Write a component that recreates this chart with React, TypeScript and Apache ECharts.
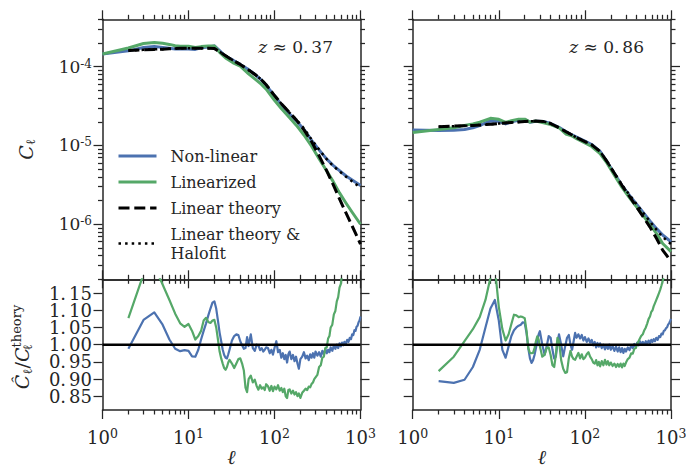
import React, { useEffect, useRef } from "react";
import * as echarts from "echarts";

const INK = "#262626";
const BLUE = "#4C72B0";
const GREEN = "#55A868";
const FONT = "DejaVu Serif";

// multipoles at which the smooth spectra are sampled
const ellSpectrum = [1, 2, 3, 4, 5, 6, 7, 8, 10, 12, 14, 17, 20, 23, 27, 33, 40, 50, 60, 70, 80, 100, 120, 150, 180, 220, 270, 330, 400, 480, 570, 680, 800, 1000];

// z ≈ 0.37
const clNonLinearLow = [1.45e-4, 1.59e-4, 1.75e-4, 1.81e-4, 1.76e-4, 1.72e-4, 1.68e-4, 1.68e-4, 1.68e-4, 1.66e-4, 1.74e-4, 1.78e-4, 1.84e-4, 1.6e-4, 1.35e-4, 1.21e-4, 1.07e-4, 9.2e-5, 7.9e-5, 6.8e-5, 5.8e-5, 4.3e-5, 3.3e-5, 2.5e-5, 2.05e-5, 1.6e-5, 1.16e-5, 8.8e-6, 6.8e-6, 5.6e-6, 4.8e-6, 4.1e-6, 3.65e-6, 3.1e-6];
const clLinearizedLow = [1.45e-4, 1.73e-4, 1.97e-4, 2.03e-4, 1.98e-4, 1.92e-4, 1.85e-4, 1.82e-4, 1.82e-4, 1.75e-4, 1.8e-4, 1.83e-4, 1.83e-4, 1.52e-4, 1.29e-4, 1.12e-4, 1.02e-4, 8.1e-5, 6.9e-5, 6.0e-5, 5.2e-5, 3.75e-5, 2.95e-5, 2.25e-5, 1.8e-5, 1.36e-5, 9.8e-6, 6.8e-6, 4.85e-6, 3.5e-6, 2.5e-6, 1.85e-6, 1.42e-6, 1.0e-6];
const clLinearTheoryLow = [null, 1.61e-4, 1.64e-4, 1.66e-4, 1.67e-4, 1.69e-4, 1.7e-4, 1.71e-4, 1.71e-4, 1.72e-4, 1.72e-4, 1.72e-4, 1.7e-4, 1.55e-4, 1.38e-4, 1.2e-4, 1.07e-4, 9.1e-5, 7.9e-5, 6.9e-5, 5.9e-5, 4.3e-5, 3.4e-5, 2.6e-5, 2.1e-5, 1.58e-5, 1.12e-5, 7.4e-6, 4.9e-6, 3.2e-6, 2.1e-6, 1.38e-6, 9.5e-7, 5.6e-7];
const clHalofitLow = [null, 1.61e-4, 1.64e-4, 1.66e-4, 1.67e-4, 1.69e-4, 1.7e-4, 1.71e-4, 1.71e-4, 1.72e-4, 1.72e-4, 1.72e-4, 1.7e-4, 1.55e-4, 1.38e-4, 1.2e-4, 1.07e-4, 9.1e-5, 7.9e-5, 6.9e-5, 5.9e-5, 4.3e-5, 3.4e-5, 2.6e-5, 2.12e-5, 1.65e-5, 1.19e-5, 8.9e-6, 6.8e-6, 5.5e-6, 4.7e-6, 4.0e-6, 3.5e-6, 2.9e-6];

// z ≈ 0.86
const clNonLinearHigh = [1.57e-5, 1.55e-5, 1.56e-5, 1.6e-5, 1.68e-5, 1.79e-5, 1.93e-5, 2.05e-5, 2.03e-5, 1.88e-5, 2.0e-5, 2.09e-5, 2.14e-5, 1.97e-5, 2.03e-5, 2.02e-5, 1.9e-5, 1.7e-5, 1.5e-5, 1.37e-5, 1.28e-5, 1.14e-5, 1.03e-5, 8.4e-6, 6.25e-6, 4.4e-6, 3.1e-6, 2.32e-6, 1.78e-6, 1.39e-6, 1.1e-6, 8.8e-7, 7.3e-7, 6.0e-7];
const clLinearizedHigh = [1.46e-5, 1.6e-5, 1.68e-5, 1.8e-5, 1.88e-5, 1.98e-5, 2.1e-5, 2.21e-5, 2.15e-5, 1.96e-5, 2.06e-5, 2.16e-5, 2.16e-5, 1.98e-5, 2.04e-5, 1.94e-5, 1.84e-5, 1.68e-5, 1.4e-5, 1.33e-5, 1.22e-5, 1.075e-5, 9.7e-6, 7.9e-6, 6.0e-6, 4.2e-6, 2.93e-6, 2.17e-6, 1.65e-6, 1.27e-6, 9.9e-7, 7.6e-7, 5.7e-7, 4.5e-7];
const clLinearTheoryHigh = [null, 1.73e-5, 1.76e-5, 1.78e-5, 1.8e-5, 1.82e-5, 1.84e-5, 1.86e-5, 1.9e-5, 1.93e-5, 1.96e-5, 1.99e-5, 2.01e-5, 2.03e-5, 2.04e-5, 2.02e-5, 1.9e-5, 1.68e-5, 1.5e-5, 1.37e-5, 1.26e-5, 1.12e-5, 1.02e-5, 8.4e-6, 6.3e-6, 4.45e-6, 3.1e-6, 2.25e-6, 1.65e-6, 1.22e-6, 9.2e-7, 6.6e-7, 4.7e-7, 3.4e-7];
const clHalofitHigh = [null, 1.73e-5, 1.76e-5, 1.78e-5, 1.8e-5, 1.82e-5, 1.84e-5, 1.86e-5, 1.9e-5, 1.93e-5, 1.96e-5, 1.99e-5, 2.01e-5, 2.03e-5, 2.04e-5, 2.02e-5, 1.9e-5, 1.68e-5, 1.5e-5, 1.37e-5, 1.26e-5, 1.12e-5, 1.02e-5, 8.4e-6, 6.3e-6, 4.45e-6, 3.15e-6, 2.35e-6, 1.78e-6, 1.38e-6, 1.08e-6, 8.5e-7, 6.9e-7, 5.6e-7];

// multipoles of the measured ratios
const ellRatio = [
  2, 3, 4, 5, 6, 7, 8, 9, 10, 11, 12, 13, 14, 15, 16, 17, 18, 19, 20, 21, 22, 23, 24, 25, 26, 27, 28, 29, 30,
  32, 34, 36, 38, 40, 42, 44, 46, 48, 50,
  53, 56, 59, 62, 65, 68, 71, 74, 77, 80,
  84, 88, 92, 96, 100,
  105, 110, 115, 120, 125, 130, 135, 140, 145, 150,
  157, 164, 171, 178, 185, 192, 200,
  210, 220, 230, 240, 250, 260, 270, 280, 290, 300,
  315, 330, 345, 360, 375, 390, 405, 420, 435, 450,
  470, 490, 510, 530, 550, 570, 590, 610, 630, 650,
  675, 700, 725, 750, 775, 800, 825, 850, 875, 900, 925, 950, 975, 1000,
];

const ratioNonLinearLow = [
  0.988, 1.072, 1.094, 1.058, 1.015, 0.988, 0.981, 0.984, 0.982, 0.966, 0.965, 0.985, 1.015, 1.04, 1.062, 1.085, 1.105, 1.122, 1.126, 1.105, 1.07, 1.035, 1.01, 0.985, 0.97, 0.962, 0.96, 0.972, 0.985,
  1.012, 1.025, 1.03, 1.028, 1.01, 0.998, 0.988, 0.99, 1.022, 0.996,
  1.03, 0.99, 0.982, 1.0, 0.998, 0.984, 0.99, 0.98, 0.985, 0.992,
  0.99, 0.975, 0.985, 0.971, 0.99,
  1.01, 0.978, 0.985, 0.962, 0.975, 0.958, 0.97, 0.948, 0.972, 0.98,
  0.958, 0.97, 0.952, 0.965, 0.945, 0.93, 0.958,
  0.965, 0.978, 0.96, 0.968, 0.955, 0.972, 0.962, 0.975, 0.962, 0.98,
  0.968, 0.978, 0.965, 0.982, 0.972, 0.988, 0.975, 0.985, 0.978, 0.992,
  0.982, 0.998, 0.988, 1.0, 0.99, 1.004, 0.995, 1.006, 0.998, 1.008,
  1.003, 1.014, 1.008, 1.02, 1.016, 1.03, 1.028, 1.042, 1.04, 1.052, 1.055, 1.065, 1.07, 1.082,
];
const ratioLinearizedLow = [
  1.077, 1.205, 1.23, 1.175, 1.13, 1.09, 1.062, 1.052, 1.06, 1.04, 1.015, 1.025, 1.04, 1.07, 1.078, 1.066, 1.063, 1.07, 1.072, 1.05, 1.015, 0.98, 0.96, 0.945, 0.932, 0.927, 0.935, 0.948, 0.956,
  0.945, 0.932, 0.945, 0.958, 0.96, 0.945, 0.925, 0.875, 0.862, 0.9,
  0.91, 0.89, 0.898, 0.88, 0.869, 0.882, 0.872, 0.876, 0.868, 0.885,
  0.879, 0.866, 0.88, 0.865, 0.878,
  0.87, 0.882, 0.866, 0.874, 0.862, 0.872, 0.85, 0.845, 0.868, 0.87,
  0.858, 0.866, 0.855, 0.862, 0.85, 0.858, 0.845,
  0.86, 0.866, 0.872, 0.868, 0.878, 0.876, 0.886, 0.89, 0.9, 0.905,
  0.912, 0.935, 0.94, 0.962, 0.965, 0.99, 0.992, 1.018, 1.025, 1.05,
  1.058, 1.088, 1.098, 1.126, 1.138, 1.166, 1.176, 1.205, 1.22, 1.24,
  1.27, 1.29, 1.32, 1.35, 1.38, 1.41, 1.44, 1.47, 1.5, 1.53, 1.56, 1.6, 1.64, 1.68,
];
const ratioNonLinearHigh = [
  0.894, 0.889, 0.898, 0.935, 0.985, 1.05, 1.105, 1.13, 1.07, 0.985, 0.962, 0.995, 1.025, 1.042, 1.05, 1.055, 1.058, 1.065, 1.063, 1.034, 0.99, 0.96, 0.947, 0.955, 0.97, 0.99, 1.01, 1.03, 1.039,
  1.0, 0.971, 0.995, 1.025, 1.02, 0.985, 0.96, 0.965, 1.005, 1.03,
  1.0, 0.966, 0.995, 1.02, 1.028, 1.0, 0.985, 1.01, 1.034, 1.02,
  1.03, 1.018, 1.028, 1.012, 1.022,
  1.008, 1.018, 1.006, 1.014, 0.998, 1.008, 0.992, 1.005, 0.994, 1.004,
  0.99, 1.0, 0.986, 0.998, 0.988, 1.0, 0.985,
  0.996, 0.982, 0.994, 0.98, 0.992, 0.978, 0.99, 0.976, 0.988, 0.98,
  0.992, 0.984, 0.998, 0.99, 1.002, 0.994, 1.006, 0.998, 1.01, 1.002,
  1.008, 1.0, 1.01, 1.002, 1.012, 1.004, 1.014, 1.008, 1.016, 1.01,
  1.02, 1.014, 1.025, 1.022, 1.032, 1.03, 1.04, 1.042, 1.048, 1.05, 1.058, 1.062, 1.068, 1.075,
];
const ratioLinearizedHigh = [
  0.923, 0.965, 1.01, 1.045, 1.08, 1.13, 1.195, 1.225, 1.11, 1.045, 1.012, 1.03, 1.06, 1.087, 1.085, 1.08, 1.082, 1.08, 1.077, 1.04, 0.99, 0.976, 0.975, 0.976, 0.99, 1.01, 1.024, 1.015, 0.995,
  0.965, 0.97, 0.99, 0.992, 0.97, 0.94, 0.935, 0.97, 1.02, 1.01,
  0.955, 0.93, 0.918, 0.92, 0.96, 0.982, 0.965, 0.958, 0.956, 0.965,
  0.976, 0.96, 0.972, 0.958, 0.962,
  0.972, 0.978, 0.965, 0.958, 0.948, 0.945, 0.955, 0.94, 0.95, 0.937,
  0.952, 0.94, 0.956, 0.942, 0.952, 0.94, 0.948,
  0.938, 0.945, 0.935, 0.944, 0.936, 0.945, 0.934, 0.945, 0.938, 0.948,
  0.958, 0.962, 0.975, 0.974, 0.988, 0.99, 1.002, 1.01, 1.018, 1.025,
  1.03, 1.042, 1.05, 1.062, 1.075, 1.082, 1.095, 1.1, 1.112, 1.12,
  1.13, 1.14, 1.15, 1.16, 1.172, 1.185, 1.2, 1.215, 1.23, 1.245, 1.26, 1.275, 1.29, 1.31,
];

// tick positions
const xMajorTicks = [1, 10, 100, 1000];
const xMinorTicks = [2, 3, 4, 5, 6, 7, 8, 9, 20, 30, 40, 50, 60, 70, 80, 90, 200, 300, 400, 500, 600, 700, 800, 900];
const clMajorTicks = [1e-6, 1e-5, 1e-4];
const clMinorTicks = [
  2e-7, 3e-7, 4e-7, 5e-7, 6e-7, 7e-7, 8e-7, 9e-7,
  2e-6, 3e-6, 4e-6, 5e-6, 6e-6, 7e-6, 8e-6, 9e-6,
  2e-5, 3e-5, 4e-5, 5e-5, 6e-5, 7e-5, 8e-5, 9e-5,
  2e-4, 3e-4, 4e-4,
];
const ratioTicks = [0.85, 0.9, 0.95, 1.0, 1.05, 1.1, 1.15];
const ratioUnity = [[1, 1], [1000, 1]];

// the ratio labels sit 17px apart; they are spread over two stacked axes so
// that no label is dropped by the axis' own overlap handling
const ratioLabelsA = ratioTicks.filter((_, i) => i % 2 === 0);
const ratioLabelsB = ratioTicks.filter((_, i) => i % 2 === 1);

const NAMES = ["Non-linear", "Linearized", "Linear theory", "Linear theory &\nHalofit"];
const DASHED = [11, 4.8];
const DOTTED = [2.5, 4.1];
const MAJOR_LEN = 9;
const MINOR_LEN = 4.5;
const SPINE = 1.5;

const pair = (xs: number[], ys: (number | null)[]) =>
  xs.map((x, i) => [x, ys[i]]).filter((d) => d[1] != null);

const powLabel = (v: number) => `{b|10}{s|${Math.round(Math.log10(v))}}`;
const ratioLabel = (v: number) => {
  const [a, b] = v.toFixed(2).split(".");
  return `{a|${a}.}{f|${b}}`;
};

const xRich = {
  b: { fontSize: 18, lineHeight: 20, fontFamily: FONT, color: INK },
  s: { fontSize: 12.5, lineHeight: 12.5, verticalAlign: "top", fontFamily: FONT, color: INK },
};
const yPowRich = {
  b: { fontSize: 17, lineHeight: 18, fontFamily: FONT, color: INK },
  s: { fontSize: 12, lineHeight: 11, verticalAlign: "top", fontFamily: FONT, color: INK },
};
const yRatioRich = {
  a: { fontSize: 18, lineHeight: 18, fontFamily: FONT, color: INK },
  f: { fontSize: 18, lineHeight: 18, fontFamily: FONT, color: INK, padding: [0, 0, 0, 3] },
};

type Panel = { left: number; top: number; width: number; height: number; ratio: boolean; first: boolean };
const panels: Panel[] = [
  { left: 102.5, top: 19.3, width: 258, height: 260, ratio: false, first: true },
  { left: 412.7, top: 19.3, width: 258.3, height: 260, ratio: false, first: false },
  { left: 102.5, top: 279.3, width: 258, height: 130.7, ratio: true, first: true },
  { left: 412.7, top: 279.3, width: 258.3, height: 130.7, ratio: true, first: false },
];

const labelFlags = { interval: 0, showMinLabel: true, showMaxLabel: true, hideOverlap: false };

function xAxisDef(gridIndex: number, position: string, ticks: number[] | null, tickLen: number, line: boolean, labels: boolean, name = "") {
  return {
    type: "log",
    logBase: 10,
    min: 1,
    max: 1000,
    gridIndex,
    position,
    axisLine: { show: line, onZero: false, lineStyle: { color: INK, width: SPINE } },
    axisTick: ticks
      ? { show: true, inside: false, customValues: ticks, length: tickLen, lineStyle: { color: INK, width: 1.25 } }
      : { show: false },
    axisLabel: labels
      ? { show: true, ...labelFlags, customValues: xMajorTicks, margin: 17, formatter: powLabel, rich: xRich, color: INK, fontFamily: FONT }
      : { show: false },
    splitLine: { show: false },
    minorTick: { show: false },
    name,
    nameLocation: "middle",
    nameGap: 37,
    nameMoveOverlap: false,
    nameTextStyle: { fontFamily: FONT, fontSize: 20, lineHeight: 20, fontStyle: "italic", color: INK },
  };
}

function yAxisDef(gridIndex: number, position: string, ratio: boolean, ticks: number[] | null, tickLen: number, line: boolean, labelValues: number[] | null, name = "", nameRich: any = undefined) {
  const base: any = ratio
    ? { type: "value", min: 0.81, max: 1.19 }
    : { type: "log", logBase: 10, min: 2e-7, max: 4e-4 };
  return {
    ...base,
    gridIndex,
    position,
    axisLine: { show: line, onZero: false, lineStyle: { color: INK, width: SPINE } },
    axisTick: ticks
      ? { show: true, inside: false, customValues: ticks, length: tickLen, lineStyle: { color: INK, width: 1.25 } }
      : { show: false },
    axisLabel: labelValues
      ? ratio
        ? { show: true, ...labelFlags, customValues: labelValues, margin: 10.5, formatter: ratioLabel, rich: yRatioRich, color: INK, fontFamily: FONT }
        : { show: true, ...labelFlags, customValues: labelValues, margin: 10.5, formatter: powLabel, rich: yPowRich, color: INK, fontFamily: FONT }
      : { show: false },
    splitLine: { show: false },
    minorTick: { show: false },
    name,
    nameLocation: "middle",
    nameGap: 66,
    nameMoveOverlap: false,
    nameTextStyle: { fontFamily: FONT, color: INK, rich: nameRich },
  };
}

function line(name: string, data: any[], axis: number, color: string, width: number, type: any) {
  return {
    type: "line",
    name,
    data,
    xAxisIndex: axis,
    yAxisIndex: axis,
    showSymbol: false,
    symbol: "none",
    clip: true,
    silent: true,
    lineStyle: { color, width, type, cap: "butt", join: "round" },
    itemStyle: { color },
    emphasis: { disabled: true },
  };
}

const clNameRich = {
  c: { fontSize: 19, fontStyle: "italic", lineHeight: 22, fontFamily: FONT, color: INK },
  l: { fontSize: 13, lineHeight: 12, verticalAlign: "bottom", fontFamily: FONT, color: INK },
};

function buildOption() {
  const grid: any[] = [];
  const xAxis: any[] = [];
  const yAxis: any[] = [];
  const series: any[] = [];

  panels.forEach((p, i) => {
    const rect = { left: p.left, top: p.top, width: p.width, height: p.height, containLabel: false, outerBoundsMode: "none" };
    grid.push({ ...rect }, { ...rect });
    const gMain = 2 * i;
    const gMinor = 2 * i + 1;

    xAxis.push(xAxisDef(gMain, "bottom", xMajorTicks, MAJOR_LEN, true, p.ratio, p.ratio ? "ℓ" : ""));
    xAxis.push(xAxisDef(gMain, "top", xMajorTicks, MAJOR_LEN, true, false));
    xAxis.push(xAxisDef(gMinor, "bottom", xMinorTicks, MINOR_LEN, false, false));
    xAxis.push(xAxisDef(gMinor, "top", xMinorTicks, MINOR_LEN, false, false));

    const major = p.ratio ? ratioTicks : clMajorTicks;
    const yName = p.first && !p.ratio ? "{c|C}{l|ℓ}" : "";
    const mainLabels = p.first ? (p.ratio ? ratioLabelsA : clMajorTicks) : null;
    const extraLabels = p.first && p.ratio ? ratioLabelsB : null;
    yAxis.push(yAxisDef(gMain, "left", p.ratio, major, MAJOR_LEN, true, mainLabels, yName, clNameRich));
    yAxis.push(yAxisDef(gMain, "right", p.ratio, major, MAJOR_LEN, true, null));
    yAxis.push(yAxisDef(gMinor, "left", p.ratio, p.ratio ? null : clMinorTicks, MINOR_LEN, false, extraLabels));
    yAxis.push(yAxisDef(gMinor, "right", p.ratio, p.ratio ? null : clMinorTicks, MINOR_LEN, false, null));

    const ax = 4 * i;
    const low = p.first;
    if (!p.ratio) {
      series.push(line(NAMES[0], pair(ellSpectrum, low ? clNonLinearLow : clNonLinearHigh), ax, BLUE, 3, "solid"));
      series.push(line(NAMES[1], pair(ellSpectrum, low ? clLinearizedLow : clLinearizedHigh), ax, GREEN, 3, "solid"));
      series.push(line(NAMES[2], pair(ellSpectrum, low ? clLinearTheoryLow : clLinearTheoryHigh), ax, "#000000", 3, DASHED));
      series.push(line(NAMES[3], pair(ellSpectrum, low ? clHalofitLow : clHalofitHigh), ax, "#000000", 2.5, DOTTED));
    } else {
      series.push(line(NAMES[0], pair(ellRatio, low ? ratioNonLinearLow : ratioNonLinearHigh), ax, BLUE, 2.2, "solid"));
      series.push(line(NAMES[1], pair(ellRatio, low ? ratioLinearizedLow : ratioLinearizedHigh), ax, GREEN, 2.2, "solid"));
      series.push(line("unity", ratioUnity, ax, "#000000", 2.5, "solid"));
    }
  });

  const zText = (x: number, frac: string) => ({
    type: "text",
    x,
    y: 47,
    style: {
      text: `{i|z} ≈ 0.{f|${frac}}`,
      align: "right",
      verticalAlign: "middle",
      fontFamily: FONT,
      fontSize: 17,
      fill: INK,
      rich: {
        i: { fontStyle: "italic", fontFamily: FONT, fontSize: 17, fill: INK },
        f: { fontFamily: FONT, fontSize: 17, fill: INK, padding: [0, 0, 0, 3] },
      },
    },
  });

  // rotated label of the ratio panel: Ĉℓ / Cℓ^theory
  const ratioTitle = {
    type: "text",
    x: 22,
    y: 347,
    rotation: Math.PI / 2,
    style: {
      text: "{c|Ĉ}{l|ℓ}{s|/}{c|C}{k|ℓ}{t|theory}",
      align: "center",
      verticalAlign: "middle",
      fontFamily: FONT,
      fontSize: 19,
      fill: INK,
      rich: {
        c: { fontSize: 19, fontStyle: "italic", lineHeight: 24, fontFamily: FONT, fill: INK },
        s: { fontSize: 19, lineHeight: 24, fontFamily: FONT, fill: INK },
        l: { fontSize: 13, lineHeight: 12, verticalAlign: "bottom", fontFamily: FONT, fill: INK },
        k: { fontSize: 13, lineHeight: 12, verticalAlign: "bottom", width: 0.1, align: "left", fontFamily: FONT, fill: INK },
        t: { fontSize: 13, lineHeight: 12, verticalAlign: "top", fontFamily: FONT, fill: INK },
      },
    },
  };

  return {
    animation: false,
    backgroundColor: "#ffffff",
    textStyle: { fontFamily: FONT },
    grid,
    xAxis,
    yAxis,
    series,
    legend: {
      show: true,
      orient: "vertical",
      left: 117,
      top: 146.5,
      padding: 0,
      itemWidth: 38,
      itemHeight: 14,
      itemGap: 7,
      selectedMode: false,
      itemStyle: { opacity: 0 },
      textStyle: { fontFamily: FONT, fontSize: 16, lineHeight: 19, color: INK, padding: [0, 0, 0, 9] },
      data: [
        { name: NAMES[0], lineStyle: { color: BLUE, width: 3, type: "solid" } },
        { name: NAMES[1], lineStyle: { color: GREEN, width: 3, type: "solid" } },
        { name: NAMES[2], lineStyle: { color: "#000000", width: 3, type: DASHED } },
        { name: NAMES[3], lineStyle: { color: "#000000", width: 2.5, type: DOTTED } },
      ],
    },
    graphic: [zText(333, "37"), zText(644, "86"), ratioTitle],
  };
}

export default function App() {
  const ref = useRef<HTMLDivElement>(null);
  useEffect(() => {
    if (!ref.current) return;
    const chart = echarts.init(ref.current, null, { renderer: "svg" });
    chart.setOption(buildOption() as any);
    return () => chart.dispose();
  }, []);
  return (
    <div
      ref={ref}
      style={{ position: "fixed", left: 0, top: 0, width: 686, height: 471, background: "#ffffff" }}
    />
  );
}
